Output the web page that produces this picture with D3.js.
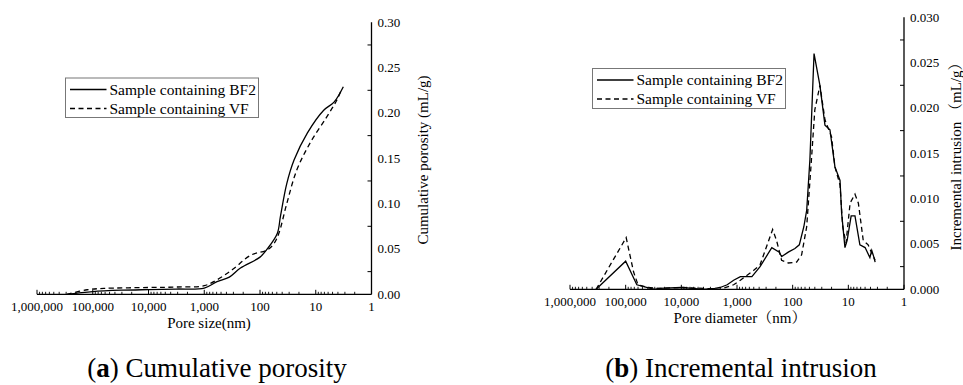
<!DOCTYPE html>
<html><head><meta charset="utf-8">
<script src="https://cdn.jsdelivr.net/npm/d3@7"></script>
<style>
html,body{margin:0;padding:0;background:#fff;}
svg{display:block;}
text{font-family:"Liberation Serif","Noto Serif CJK SC","Noto Sans CJK SC",serif;fill:#000;}
</style></head>
<body>
<svg id="chart" width="963" height="385"></svg>
<script>
// ---------- Data ----------
const seriesNames = ["Sample containing BF2", "Sample containing VF"];
const xTickValues = [1000000, 100000, 10000, 1000, 100, 10, 1];
const yTicksA = [0, 0.05, 0.10, 0.15, 0.20, 0.25, 0.30];
const yTicksB = [0, 0.005, 0.010, 0.015, 0.020, 0.025, 0.030];

// (a) Cumulative porosity: pore size (nm) and value (mL/g)
const cumBF2Size = [290000, 190000, 100000, 30000, 10000, 3200, 1000, 590, 355, 224, 100, 74, 49, 43, 33.1, 24.5, 14.1, 7.2, 4.7, 3.2];
const cumBF2Val  = [0, 0.0012, 0.003, 0.0045, 0.0052, 0.0058, 0.0068, 0.0139, 0.019, 0.029, 0.041, 0.050, 0.067, 0.086, 0.122, 0.148, 0.178, 0.203, 0.212, 0.229];
const cumVFSize  = [290000, 126000, 63000, 10000, 3200, 1000, 590, 316, 148, 74, 56, 46, 33.1, 21.9, 12.6, 6.3, 4.2, 3.4];
const cumVFVal   = [0, 0.005, 0.0065, 0.0075, 0.008, 0.0095, 0.016, 0.027, 0.043, 0.049, 0.056, 0.067, 0.100, 0.137, 0.167, 0.196, 0.214, 0.227];

// (b) Incremental intrusion: pore diameter (nm) and value (mL/g)
const incBF2Size = [340000, 100000, 63000, 42000, 30000, 25000, 10000, 6300, 4000, 2500, 2000, 1500, 1150, 870, 540, 385, 237, 174, 158, 120, 91, 76, 63, 56, 49, 41.3, 32.4, 26.3, 21.4, 17.4, 14.1, 13.2, 11.5, 10.5, 8.9, 7.6, 6.2, 5.0, 4.1, 3.8, 3.5, 3.3];
const incBF2Val  = [0, 0.0031, 0.0005, 0.0002, 0.0, 0.0001, 0.0002, 0.0001, 0.0, 0.0001, 0.0002, 0.0005, 0.001, 0.0014, 0.0014, 0.0025, 0.0046, 0.0041, 0.0036, 0.0041, 0.0045, 0.0049, 0.0069, 0.0087, 0.0143, 0.026, 0.0225, 0.0181, 0.0176, 0.0135, 0.012, 0.0084, 0.0046, 0.0054, 0.0081, 0.0081, 0.0049, 0.0046, 0.0035, 0.0043, 0.0036, 0.003];
const incVFSize  = [340000, 98000, 72000, 60000, 40000, 25000, 10000, 4000, 2000, 1150, 870, 500, 385, 229, 195, 158, 120, 85, 69, 56, 46, 40, 34.7, 32.4, 26.3, 20, 17.4, 14.1, 12.6, 11.0, 9.3, 7.6, 6.6, 5.4, 4.4, 3.8, 3.3];
const incVFVal   = [0, 0.0057, 0.0019, 0.0005, 0.0002, 0.0001, 0.0002, 0.0001, 0.0, 0.0005, 0.001, 0.0021, 0.0027, 0.0066, 0.0054, 0.0032, 0.0029, 0.003, 0.0038, 0.0069, 0.0143, 0.0198, 0.0216, 0.0225, 0.0187, 0.0168, 0.0135, 0.0115, 0.0069, 0.0051, 0.0095, 0.0105, 0.0095, 0.0054, 0.0049, 0.004, 0.0032];

// ---------- Drawing ----------
const svg = d3.select("#chart");
const fmtX = d3.format(",");

function panel(cfg) {
  const x = d3.scaleLog().domain([1000000, 1]).range([cfg.x0, cfg.x1]);
  const y = d3.scaleLinear().domain([0, cfg.yMax]).range([cfg.y0, cfg.y1]);
  const g = svg.append("g");

  g.append("line").attr("x1", cfg.x0).attr("x2", cfg.x1).attr("y1", cfg.y0).attr("y2", cfg.y0)
    .attr("stroke", "#000").attr("stroke-width", 1.3);
  g.append("line").attr("x1", cfg.x1).attr("x2", cfg.x1).attr("y1", cfg.y0).attr("y2", cfg.y1)
    .attr("stroke", "#000").attr("stroke-width", 1.3);

  const minors = [];
  for (let e = 0; e < 6; e++) for (let m = 2; m <= 9; m++) minors.push(m * Math.pow(10, e));
  g.selectAll(".xmin").data(minors).enter().append("line")
    .attr("x1", d => x(d)).attr("x2", d => x(d)).attr("y1", cfg.y0).attr("y2", cfg.y0 - 2.5)
    .attr("stroke", "#000").attr("stroke-width", 0.9);
  g.selectAll(".xmaj").data(xTickValues).enter().append("line")
    .attr("x1", d => x(d)).attr("x2", d => x(d)).attr("y1", cfg.y0).attr("y2", cfg.y0 - 4.5)
    .attr("stroke", "#000").attr("stroke-width", 1);
  g.selectAll(".xlab").data(xTickValues).enter().append("text")
    .attr("x", d => x(d)).attr("y", cfg.y0 + 17).attr("text-anchor", "middle")
    .attr("font-size", 13).text(d => fmtX(d));

  const step = cfg.yTicks[1] - cfg.yTicks[0];
  const halfTicks = cfg.yTicks.slice(0, -1).map(v => v + step / 2);
  g.selectAll(".ymin").data(halfTicks).enter().append("line")
    .attr("x1", cfg.x1).attr("x2", cfg.x1 - 4).attr("y1", d => y(d)).attr("y2", d => y(d))
    .attr("stroke", "#000").attr("stroke-width", 1);
  g.selectAll(".ylab").data(cfg.yTicks).enter().append("text")
    .attr("x", cfg.x1 + 6).attr("y", d => y(d) + 4.5)
    .attr("font-size", 13).text(d => d3.format(cfg.yFmt)(d));

  g.append("text").attr("x", cfg.xTitleX).attr("y", cfg.y0 + 34).attr("text-anchor", "middle")
    .attr("font-size", 15).text(cfg.xTitle);
  g.append("text").attr("transform", `translate(${cfg.yTitleX},${cfg.yTitleY}) rotate(-90)`)
    .attr("text-anchor", "middle").attr("font-size", 15).text(cfg.yTitle);

  const line = d3.line().x(d => x(d[0])).y(d => y(d[1])).curve(cfg.curve);
  cfg.series.forEach((s, i) => {
    const pts = s.size.map((v, k) => [v, s.val[k]]);
    g.append("path").attr("d", line(pts)).attr("fill", "none").attr("stroke", "#000")
      .attr("stroke-width", 1.3).attr("stroke-dasharray", i === 1 ? "5,3.5" : null);
  });

  const L = cfg.legend;
  g.append("rect").attr("x", L.x).attr("y", L.y).attr("width", L.w).attr("height", L.h)
    .attr("fill", "#fff").attr("stroke", "#777").attr("stroke-width", 1);
  seriesNames.forEach((n, i) => {
    const yy = L.y + 11.5 + i * 19;
    g.append("line").attr("x1", L.x + 4.5).attr("x2", L.x + 41).attr("y1", yy).attr("y2", yy)
      .attr("stroke", "#000").attr("stroke-width", 1.3).attr("stroke-dasharray", i === 1 ? "5,3.5" : null);
    g.append("text").attr("x", L.x + 44).attr("y", yy + 5).attr("font-size", 15.5).text(n);
  });

  const cap = g.append("text").attr("x", cfg.capX).attr("y", 377).attr("text-anchor", "middle")
    .attr("font-size", 27);
  cap.append("tspan").text("(");
  cap.append("tspan").attr("font-weight", "bold").text(cfg.capLetter);
  cap.append("tspan").text(") " + cfg.capText);
}

panel({
  x0: 37, x1: 371.5, y0: 294.3, y1: 22.3, yMax: 0.30, yTicks: yTicksA, yFmt: ".2f",
  xTitle: "Pore size(nm)", xTitleX: 209, yTitle: "Cumulative porosity (mL/g)", yTitleX: 428, yTitleY: 160,
  curve: d3.curveCatmullRom,
  series: [{size: cumBF2Size, val: cumBF2Val}, {size: cumVFSize, val: cumVFVal}],
  legend: {x: 65.5, y: 78, w: 193, h: 39.5},
  capX: 217, capLetter: "a", capText: "Cumulative porosity"
});
panel({
  x0: 570, x1: 904, y0: 289.3, y1: 17.3, yMax: 0.030, yTicks: yTicksB, yFmt: ".3f",
  xTitle: "Pore diameter（nm）", xTitleX: 740, yTitle: "Incremental intrusion （mL/g）", yTitleX: 961, yTitleY: 153,
  curve: d3.curveLinear,
  series: [{size: incBF2Size, val: incBF2Val}, {size: incVFSize, val: incVFVal}],
  legend: {x: 592.5, y: 68.5, w: 193, h: 40},
  capX: 741, capLetter: "b", capText: "Incremental intrusion"
});
</script>
</body></html>
